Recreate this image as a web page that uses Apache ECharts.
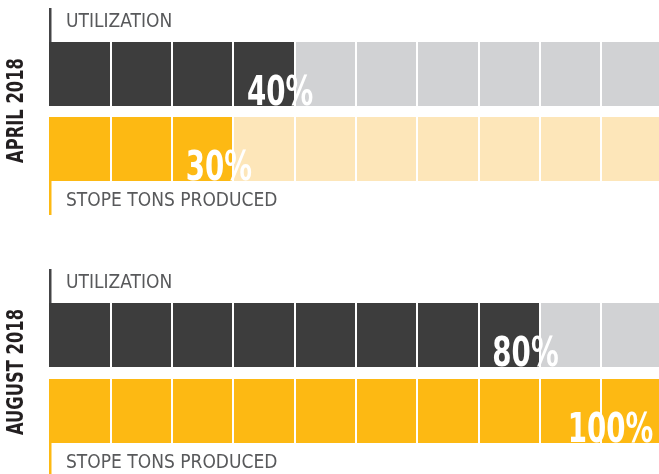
<!DOCTYPE html>
<html>
<head>
<meta charset="utf-8">
<script src="https://cdn.jsdelivr.net/npm/echarts@6/dist/echarts.min.js"></script>
<style>
html,body{margin:0;padding:0;background:#fff;}
#chart{width:659px;height:474px;}
</style>
</head>
<body>
<div id="chart"></div>
<script>
const periods = ['APRIL 2018', 'AUGUST 2018'];
const metrics = ['UTILIZATION', 'STOPE TONS PRODUCED'];
const aprilValues = [40, 30];
const augustValues = [80, 100];
const fullValue = 100;
const cellStep = 10;

const FONT = "'DejaVu Sans Condensed', 'DejaVu Sans', sans-serif";
const fgColors = ['#3d3d3d', '#fdb913'];
const bgColors = ['#d1d2d4', '#fde6b9'];
const lineColors = ['#444446', '#fdb913'];
const BAR_H = 64;

const grids = [
  { left: 49, width: 613.3, top: 36.5, height: 150, outerBoundsMode: 'none', containLabel: false },
  { left: 49, width: 613.3, top: 297, height: 152, outerBoundsMode: 'none', containLabel: false }
];

const chart = echarts.init(document.getElementById('chart'), null, { renderer: 'canvas' });

const xAxes = grids.map((g, i) => ({
  type: 'value', gridIndex: i, min: 0, max: fullValue, interval: cellStep,
  z: 10,
  axisLine: { show: false }, axisTick: { show: false }, axisLabel: { show: false },
  splitLine: { show: true, showMinLine: false, showMaxLine: false, lineStyle: { color: '#ffffff', width: 2 } }
}));

const yAxes = grids.map((g, i) => ({
  type: 'category', gridIndex: i, data: metrics, inverse: true,
  axisLine: { show: false }, axisTick: { show: false }, axisLabel: { show: false },
  splitLine: { show: false }
}));

const allValues = [aprilValues, augustValues];
const series = [];
allValues.forEach((vals, gi) => {
  series.push({
    type: 'bar', xAxisIndex: gi, yAxisIndex: gi, barWidth: BAR_H, barGap: '-100%',
    silent: true, z: 2,
    data: metrics.map((m, k) => ({
      value: fullValue,
      itemStyle: { color: bgColors[k] },
      label: {
        show: true, formatter: '{b}', position: k === 0 ? [17, -20] : [17, BAR_H + 20],
        align: 'left', verticalAlign: 'middle',
        fontFamily: FONT, fontSize: 19, color: '#58595b'
      }
    }))
  });
  series.push({
    type: 'bar', xAxisIndex: gi, yAxisIndex: gi, barWidth: BAR_H, barGap: '-100%',
    silent: true, z: 3,
    data: vals.map((v, k) => ({ value: v, itemStyle: { color: fgColors[k] } }))
  });
  // value labels (condensed by horizontal scaling)
  series.push({
    type: 'custom', xAxisIndex: gi, yAxisIndex: gi, silent: true, z: 20, clip: false,
    encode: { x: 0, y: 1 },
    data: vals.map((v, k) => [v, k]),
    renderItem: function (params, api) {
      const v = api.value(0);
      const c = api.coord([v, api.value(1)]);
      const dx = v >= fullValue ? -9 : 19;
      return {
        type: 'text',
        x: c[0] + dx, y: c[1] + 21,
        scaleX: 0.77, scaleY: 1,
        style: {
          text: v + '%', align: 'right', verticalAlign: 'middle',
          fontFamily: FONT, fontWeight: 'bold', fontSize: 40, fill: '#ffffff'
        }
      };
    }
  });
});

chart.setOption({
  animation: false,
  grid: grids,
  xAxis: xAxes,
  yAxis: yAxes,
  series: series
});

// period titles and leader lines next to the metric captions, placed from the axes
const graphics = [];
grids.forEach((g, gi) => {
  const x0 = chart.convertToPixel({ gridIndex: gi }, [0, 0])[0];
  const yA = chart.convertToPixel({ gridIndex: gi }, [0, metrics[0]])[1];
  const yB = chart.convertToPixel({ gridIndex: gi }, [0, metrics[1]])[1];
  graphics.push({
    type: 'text', x: 17, y: (yA + yB) / 2 - 1, rotation: Math.PI / 2,
    scaleX: 0.79, scaleY: 1, silent: true,
    style: {
      text: periods[gi], align: 'center', verticalAlign: 'middle',
      fontFamily: FONT, fontWeight: 'bold', fontSize: 23, fill: '#231f20'
    }
  });
  metrics.forEach((m, k) => {
    const yc = k === 0 ? yA : yB;
    const half = BAR_H / 2;
    const y0 = k === 0 ? yc - half - 34 : yc + half;
    graphics.push({
      type: 'rect', shape: { x: x0, y: y0, width: 2.5, height: 34 },
      style: { fill: lineColors[k] }, silent: true
    });
  });
});
chart.setOption({ graphic: graphics });
</script>
</body>
</html>
